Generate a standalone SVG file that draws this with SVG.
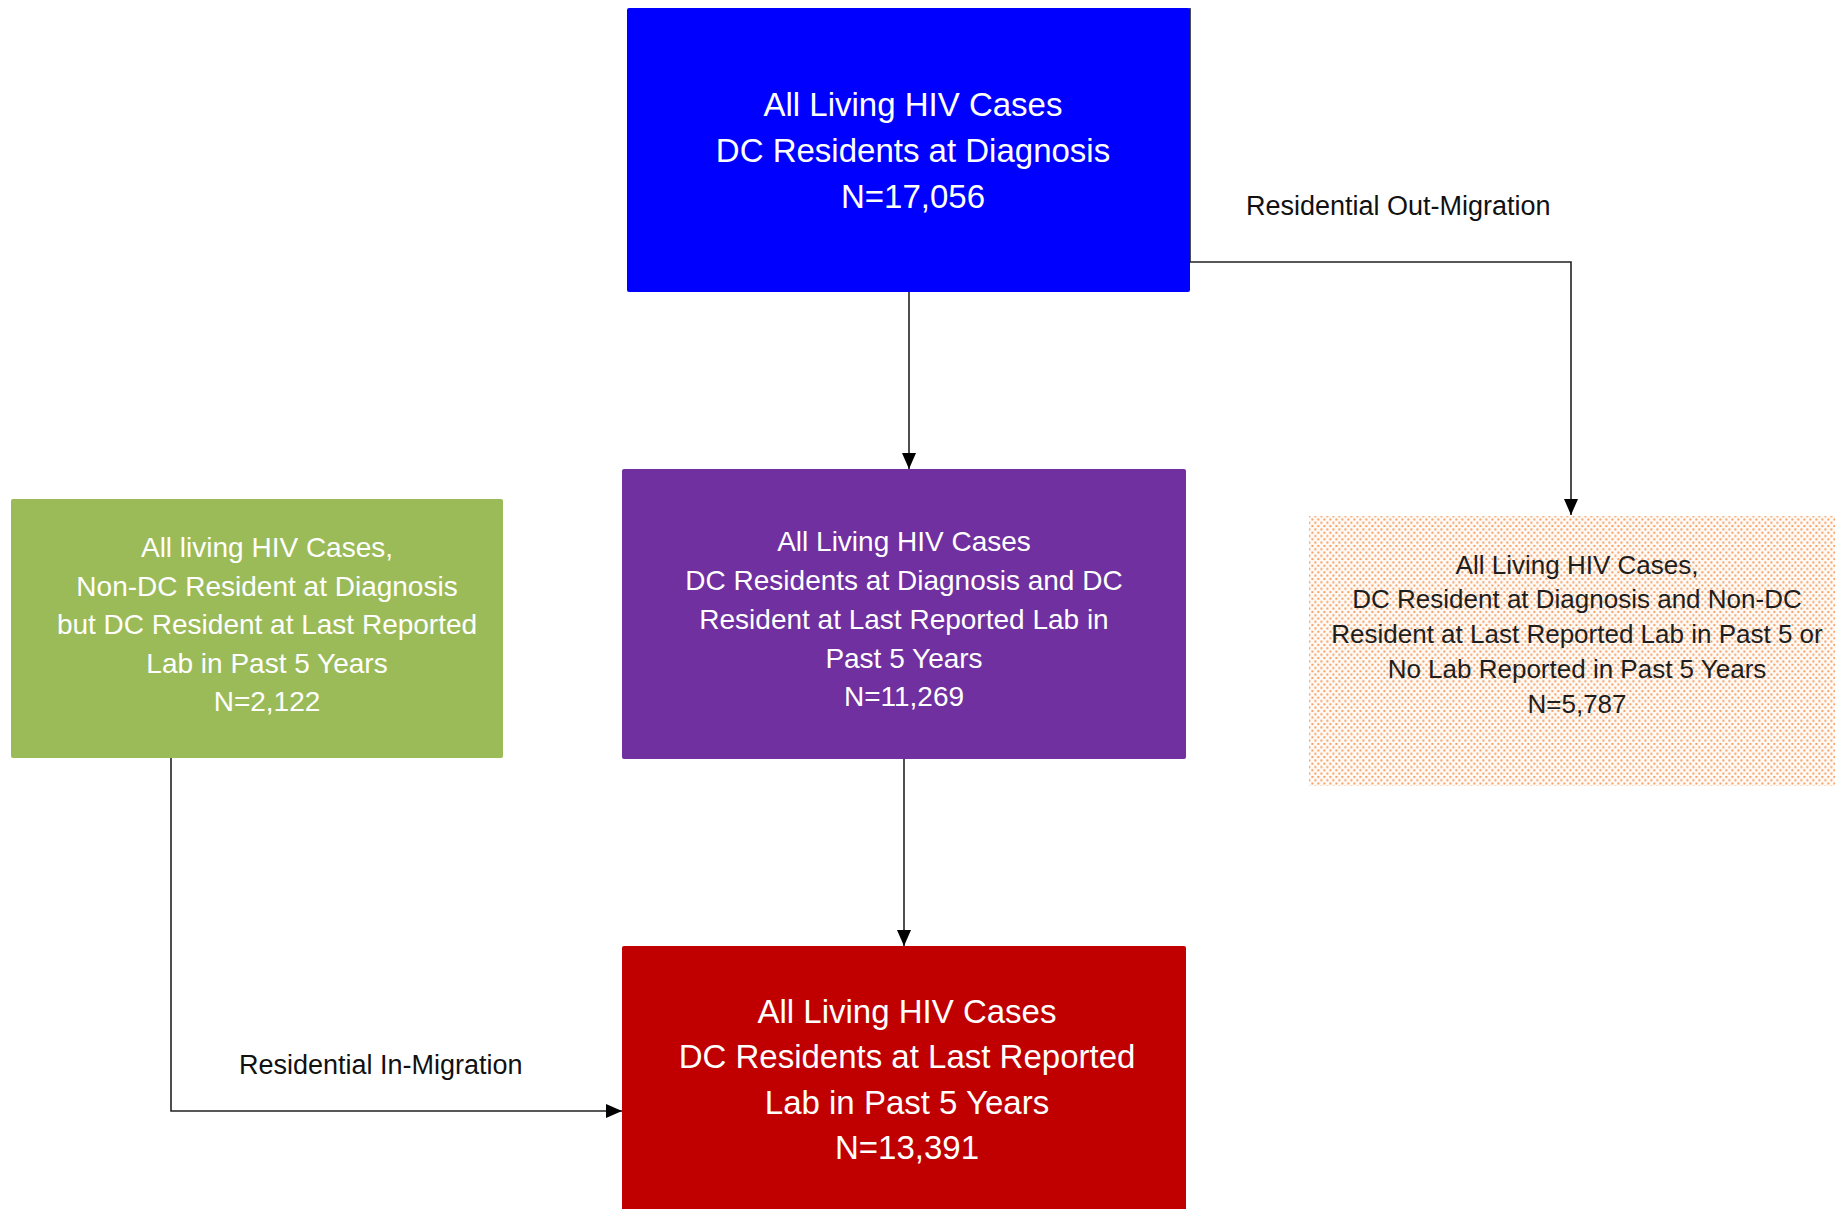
<svg xmlns="http://www.w3.org/2000/svg" width="1837" height="1209" viewBox="0 0 1837 1209">
<style>
text{font-family:"Liberation Sans",Arial,sans-serif;text-anchor:middle}
.w{fill:#ffffff}
.big{font-size:33px}
.mid{font-size:28px}
.sm{font-size:26px;fill:#1e1e1e}
.lbl{font-size:27px;fill:#111111;text-anchor:start}
.conn{fill:none;stroke:#222222;stroke-width:1.6}
</style>
<defs>
<marker id="arr" markerUnits="userSpaceOnUse" markerWidth="16" markerHeight="16" viewBox="0 0 16 16" refX="16" refY="8" orient="auto">
<path d="M0,1 L16,8 L0,15 Z" fill="#000000"/>
</marker>
<pattern id="dots" patternUnits="userSpaceOnUse" width="6" height="6.6">
<rect x="0" y="0" width="6" height="6.6" fill="#fffaf6"/>
<rect x="0.4" y="0.4" width="2" height="2" fill="#f5a064"/>
<rect x="3.4" y="3.7" width="2" height="2" fill="#f5a064"/>
</pattern>
</defs>
<rect width="1837" height="1209" fill="#ffffff"/>
<g id="connectors">
<path class="conn" d="M909,292 V469" marker-end="url(#arr)"/>
<path class="conn" d="M1190,8 V262 H1571 V515" marker-end="url(#arr)"/>
<path class="conn" d="M904,759 V946" marker-end="url(#arr)"/>
<path class="conn" d="M171,758 V1111 H622" marker-end="url(#arr)"/>
<text class="lbl" x="1246" y="215">Residential Out-Migration</text>
<text class="lbl" x="239" y="1074">Residential In-Migration</text>
</g>
<g id="node-all-dx">
<rect x="627" y="8" width="563" height="284" rx="2" fill="#0000ff"/>
<text class="w big" x="913" y="116">All Living HIV Cases</text>
<text class="w big" x="913" y="162">DC Residents at Diagnosis</text>
<text class="w big" x="913" y="208">N=17,056</text>
</g>
<g id="node-dc-both">
<rect x="622" y="469" width="564" height="290" rx="2" fill="#7030a0"/>
<text class="w mid" x="904" y="551">All Living HIV Cases</text>
<text class="w mid" x="904" y="590">DC Residents at Diagnosis and DC</text>
<text class="w mid" x="904" y="629">Resident at Last Reported Lab in</text>
<text class="w mid" x="904" y="668">Past 5 Years</text>
<text class="w mid" x="904" y="706">N=11,269</text>
</g>
<g id="node-in-migration">
<rect x="11" y="499" width="492" height="259" rx="2" fill="#9bbb59"/>
<text class="w mid" x="267" y="557">All living HIV Cases,</text>
<text class="w mid" x="267" y="596">Non-DC Resident at Diagnosis</text>
<text class="w mid" x="267" y="634">but DC Resident at Last Reported</text>
<text class="w mid" x="267" y="673">Lab in Past 5 Years</text>
<text class="w mid" x="267" y="711">N=2,122</text>
</g>
<g id="node-out-migration">
<rect x="1309" y="516" width="526" height="270" fill="url(#dots)"/>
<text class="sm" x="1577" y="574">All Living HIV Cases,</text>
<text class="sm" x="1577" y="608">DC Resident at Diagnosis and Non-DC</text>
<text class="sm" x="1577" y="643">Resident at Last Reported Lab in Past 5 or</text>
<text class="sm" x="1577" y="678">No Lab Reported in Past 5 Years</text>
<text class="sm" x="1577" y="713">N=5,787</text>
</g>
<g id="node-dc-last-lab">
<rect x="622" y="946" width="564" height="270" rx="2" fill="#c00000"/>
<text class="w big" x="907" y="1023">All Living HIV Cases</text>
<text class="w big" x="907" y="1068">DC Residents at Last Reported</text>
<text class="w big" x="907" y="1114">Lab in Past 5 Years</text>
<text class="w big" x="907" y="1159">N=13,391</text>
</g>
</svg>
